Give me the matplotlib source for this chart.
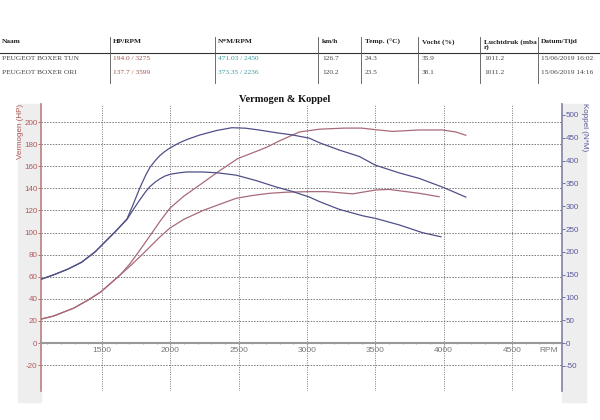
import matplotlib
matplotlib.use("Agg")
import matplotlib.pyplot as plt
from matplotlib.patches import Rectangle
from matplotlib.ticker import MultipleLocator

plt.rcParams["axes.unicode_minus"] = False

# --- header table ---
table_cols = ["Naam", "HP/RPM", "N*M/RPM", "km/h", "Temp. (°C)", "Vocht (%)",
              "Luchtdruk (mba\nr)", "Datum/Tijd"]
row_tun = ["PEUGEOT BOXER TUN", "194.0 / 3275", "471.03 / 2450", "126.7", "24.3",
           "35.9", "1011.2", "15/06/2019 16:02"]
row_ori = ["PEUGEOT BOXER ORI", "137.7 / 3599", "373.35 / 2236", "120.2", "23.5",
           "38.1", "1011.2", "15/06/2019 14:16"]

# --- curves ---
rpm_hp_tun = [1055, 1145, 1290, 1400, 1493, 1632, 1700, 1777, 1851, 1924, 1997, 2100,
              2215, 2350, 2495, 2600, 2702, 2800, 2945, 3092, 3275, 3400, 3505, 3626,
              3821, 3990, 4089, 4162]
hp_tun = [21.7, 24.4, 31.4, 39, 46.4, 61.5, 71, 84, 97, 110, 122, 133,
          143, 155, 167, 172, 177, 183, 191, 193.5, 194.5, 194.5, 193, 191.5,
          192.8, 192.8, 191, 188]

rpm_hp_ori = [1055, 1145, 1290, 1400, 1493, 1632, 1700, 1777, 1851, 1924, 1997, 2100,
              2240, 2350, 2483, 2600, 2726, 2850, 3018, 3140, 3335, 3505, 3600, 3821, 3967]
hp_ori = [21.7, 24.4, 31.4, 39, 46.4, 61.5, 69, 78, 87, 96, 104, 112,
          120, 125, 131, 133.5, 135.5, 136.5, 137, 137, 135, 138.5, 139, 135.5, 132.4]

rpm_nm_tun = [1055, 1150, 1250, 1350, 1450, 1500, 1600, 1683, 1730, 1777, 1820, 1851,
              1890, 1924, 1960, 2000, 2060, 2120, 2215, 2340, 2450, 2550, 2650, 2776,
              2897, 3018, 3092, 3237, 3383, 3500, 3675, 3821, 3999, 4162]
nm_tun = [140, 150, 162, 177, 200, 215, 245, 272, 305, 340, 368, 385,
          400, 411, 420, 428, 438, 446, 456, 466, 472, 471, 467, 461,
          456, 449, 439, 423, 409, 390, 373, 361, 341, 320]

rpm_nm_ori = [1055, 1150, 1250, 1350, 1450, 1500, 1600, 1683, 1730, 1777, 1820, 1851,
              1890, 1924, 1960, 2000, 2060, 2118, 2236, 2350, 2483, 2630, 2776, 2897,
              3018, 3092, 3237, 3408, 3505, 3675, 3845, 3980]
nm_ori = [140, 150, 162, 177, 200, 215, 245, 271, 293, 314, 332, 343,
          353, 360, 366, 370, 373, 375, 375, 373, 368, 356, 342, 332,
          320, 310, 293, 279, 273, 259, 242, 233]

hp_color = "#a86a78"
nm_color = "#505088"
hp_label_color = "#b05a5a"
nm_label_color = "#5a5aa0"

W, H = 600, 420
fig = plt.figure(figsize=(6, 4.2), dpi=100)
fig.patch.set_facecolor("white")


def fx(px):
    return px / W


def fy(py):
    return 1 - py / H


# table
col_x = [2, 113, 218, 322, 365, 422, 484, 541]
sep_x = [110, 215, 318, 361, 418, 480, 538]
serif = "Liberation Serif"
for x, txt in zip(col_x, table_cols):
    fig.text(fx(x), fy(39), txt, fontsize=5.3, fontweight="bold", family=serif,
             va="top", ha="left", color="#222222", linespacing=0.95)
for row, yy in ((row_tun, 58), (row_ori, 73)):
    for i, (x, txt) in enumerate(zip(col_x, row)):
        c = "#444444"
        if i == 1:
            c = "#a0504a"
        elif i == 2:
            c = "#3a9aa0"
        fig.text(fx(x), fy(yy), txt, fontsize=5.3, family=serif, va="center",
                 ha="left", color=c)
fig.add_artist(plt.Line2D([0, 1], [fy(52.5), fy(52.5)], color="#333333", lw=0.8))
for x in sep_x:
    fig.add_artist(plt.Line2D([fx(x), fx(x)], [fy(37), fy(83)], color="#555555", lw=0.6))

# grey bands behind axes
fig.patches.append(Rectangle((fx(18), fy(402)), fx(23), fy(104) - fy(402),
                             transform=fig.transFigure, color="#eeeeee", zorder=-5))
fig.patches.append(Rectangle((fx(562), fy(402)), fx(24), fy(104) - fy(402),
                             transform=fig.transFigure, color="#eeeeee", zorder=-5))

ax = fig.add_axes([fx(41), fy(391), fx(562 - 41), fy(104) - fy(391)])
ax.set_facecolor("white")
ax2 = ax.twinx()

ax.set_xlim(1054, 4866)
ax.set_ylim(-43.4, 216.3)
ax2.set_ylim(-105, 524)

# grid
for v in range(-20, 201, 20):
    if v == 0:
        continue
    ax.axhline(v, color="#666666", lw=0.6, ls=(0, (1.8, 1.6)), zorder=1)
for v in range(1500, 4501, 500):
    ax.axvline(v, color="#666666", lw=0.6, ls=(0, (1.2, 1.6)), zorder=1)

ax.plot(rpm_hp_tun, hp_tun, color=hp_color, lw=0.9, zorder=3)
ax.plot(rpm_hp_ori, hp_ori, color=hp_color, lw=0.9, zorder=3)
ax2.plot(rpm_nm_tun, nm_tun, color=nm_color, lw=0.9, zorder=3)
ax2.plot(rpm_nm_ori, nm_ori, color=nm_color, lw=0.9, zorder=3)

# spines
ax.spines["top"].set_visible(False)
ax2.spines["top"].set_visible(False)
ax2.spines["bottom"].set_visible(False)
ax.spines["right"].set_visible(False)
ax2.spines["left"].set_visible(False)
ax.spines["left"].set_color("#b88080")
ax.spines["left"].set_linewidth(1.2)
ax2.spines["right"].set_color("#8080aa")
ax2.spines["right"].set_linewidth(1.2)
ax.spines["bottom"].set_position(("data", 0))
ax.spines["bottom"].set_color("#999999")
ax.spines["bottom"].set_linewidth(1.5)

sans = "Liberation Sans"
ax.set_yticks(range(-20, 201, 20))
ax.tick_params(axis="y", colors=hp_label_color, labelsize=5.8, length=2, width=0.6,
               pad=0.5)
ax2.set_yticks(range(-50, 501, 50))
ax2.tick_params(axis="y", colors=nm_label_color, labelsize=5.8, length=2, width=0.6,
                pad=0.5)
ax.set_xticks(range(1500, 4501, 500))
ax.xaxis.set_minor_locator(MultipleLocator(100))
ax.tick_params(axis="x", which="major", colors="#999999", labelcolor="#777777",
               labelsize=6, length=3, direction="inout", pad=1.5)
ax.tick_params(axis="x", which="minor", colors="#999999", length=2, direction="inout")
for lab in ax.get_xticklabels() + ax.get_yticklabels() + ax2.get_yticklabels():
    lab.set_family(sans)

fig.text(fx(549), fy(350), "RPM", fontsize=6, color="#777777", family=sans,
         ha="center", va="center")
fig.text(fx(20.5), fy(131), "Vermogen (HP)", fontsize=5.8, color=hp_label_color,
         family=sans, rotation=90, ha="center", va="center")
fig.text(fx(584.5), fy(127), "Koppel (N*M)", fontsize=5.8, color=nm_label_color,
         family=sans, rotation=270, ha="center", va="center")
fig.text(fx(285), fy(99), "Vermogen & Koppel", fontsize=7.5, fontweight="bold",
         family=serif, ha="center", va="center", color="#111111")

fig.savefig("out.png", dpi=100, facecolor="white")
